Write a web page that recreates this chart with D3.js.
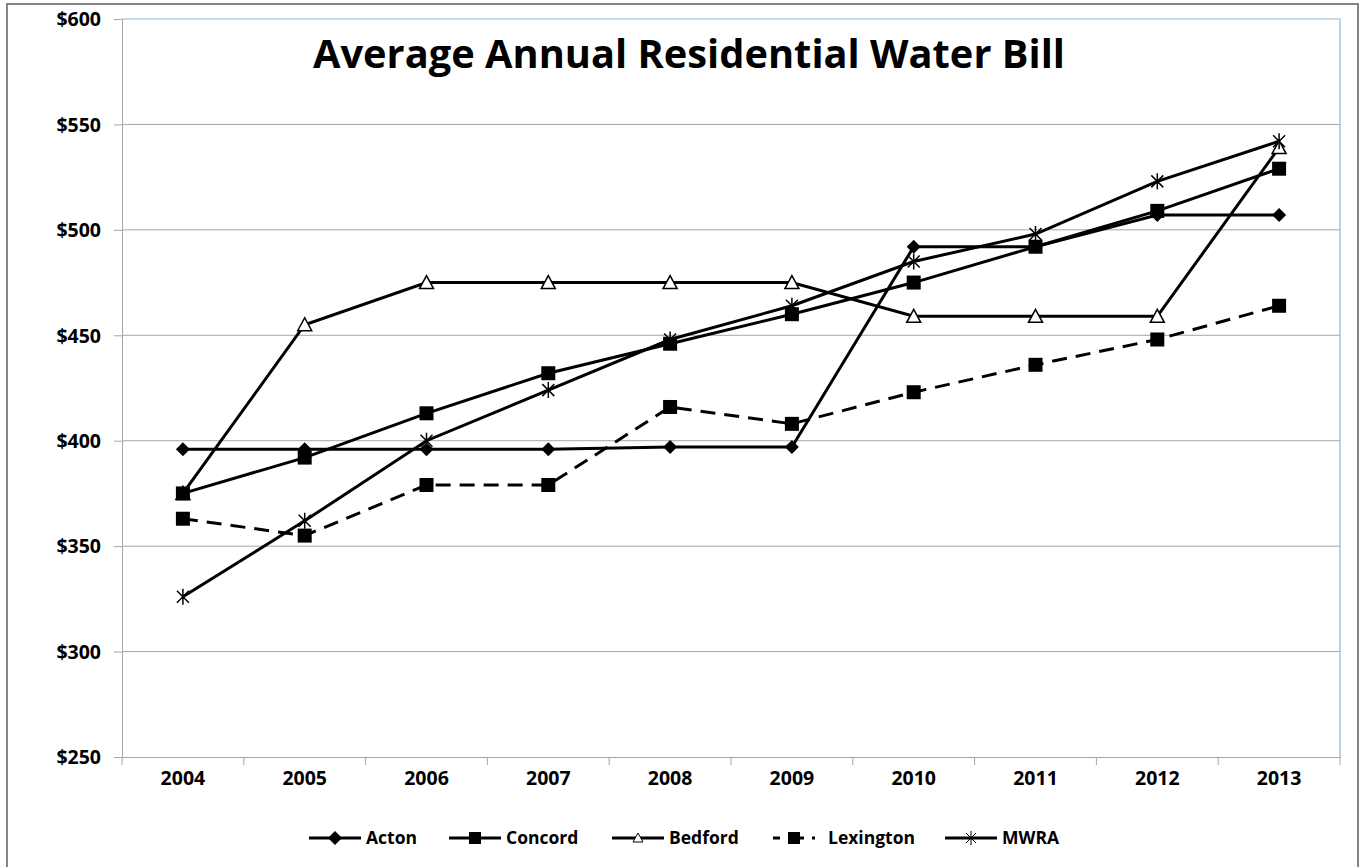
<!DOCTYPE html>
<html>
<head>
<meta charset="utf-8">
<script src="https://cdn.jsdelivr.net/npm/d3@7"></script>
<style>
  body { margin: 0; background: #fff; }
  svg text { font-family: "Open Sans", "DejaVu Sans", sans-serif; font-weight: bold; fill: #000; }
</style>
</head>
<body>
<div id="chart"></div>
<script>
// data
const years = ['2004', '2005', '2006', '2007', '2008', '2009', '2010', '2011', '2012', '2013'];
const acton = [396, 396, 396, 396, 397, 397, 492, 492, 507, 507];
const concord = [375, 392, 413, 432, 446, 460, 475, 492, 509, 529];
const bedford = [375, 455, 475, 475, 475, 475, 459, 459, 459, 539];
const lexington = [363, 355, 379, 379, 416, 408, 423, 436, 448, 464];
const mwra = [326, 362, 400, 424, 448, 464, 485, 498, 523, 542];
const yTicks = [250, 300, 350, 400, 450, 500, 550, 600];

const W = 1363, H = 867;
const margin = { top: 19, left: 122, right: 23, bottom: 110 };

const svg = d3.select('#chart').append('svg')
  .attr('width', W)
  .attr('height', H);

// outer chart border
svg.append('rect')
  .attr('x', 7).attr('y', 4)
  .attr('width', 1351).attr('height', 900)
  .attr('fill', 'none')
  .attr('stroke', '#858585')
  .attr('stroke-width', 2);

const x = d3.scaleBand().domain(years).range([margin.left, W - margin.right]).padding(0);
const y = d3.scaleLinear().domain([250, 600]).range([H - margin.bottom, margin.top]);
const cx = d => x(d) + x.bandwidth() / 2;

// gridlines
svg.append('g')
  .selectAll('line')
  .data(yTicks.filter(t => t > 250 && t < 600))
  .enter().append('line')
  .attr('x1', margin.left).attr('x2', W - margin.right)
  .attr('y1', d => y(d)).attr('y2', d => y(d))
  .attr('stroke', '#a6a6a6').attr('stroke-width', 1);

// plot area top / right border (light blue)
svg.append('path')
  .attr('d', `M${margin.left},${y(600)}H${W - margin.right}V${y(250)}`)
  .attr('fill', 'none')
  .attr('stroke', '#8db3e2')
  .attr('stroke-width', 1.2);

// y axis
const yAxis = svg.append('g')
  .attr('transform', `translate(${margin.left},0)`)
  .call(d3.axisLeft(y).tickValues(yTicks).tickSize(8).tickPadding(13).tickFormat(d => '$' + d));
yAxis.select('.domain').attr('stroke', '#a6a6a6');
yAxis.selectAll('.tick line').attr('stroke', '#a6a6a6');
yAxis.selectAll('text').style('font-size', '19.5px').attr('dy', '0.35em');

// x axis, ticks between categories
const xAxis = svg.append('g')
  .attr('transform', `translate(0,${y(250)})`)
  .call(d3.axisBottom(x).tickSize(0).tickPadding(14));
xAxis.select('.domain').attr('stroke', '#a6a6a6');
xAxis.selectAll('text').style('font-size', '19.5px');
xAxis.selectAll('.sep')
  .data(years.concat(['end']))
  .enter().append('line')
  .attr('class', 'sep')
  .attr('x1', (d, i) => margin.left + i * x.bandwidth())
  .attr('x2', (d, i) => margin.left + i * x.bandwidth())
  .attr('y1', 0).attr('y2', 8)
  .attr('stroke', '#a6a6a6');

// title
svg.append('text')
  .attr('x', 689).attr('y', 68)
  .attr('text-anchor', 'middle')
  .attr('textLength', 752)
  .attr('lengthAdjust', 'spacingAndGlyphs')
  .style('font-size', '39px')
  .text('Average Annual Residential Water Bill');

// marker shapes
function drawMarker(g, type, px, py) {
  if (type === 'diamond') {
    g.append('path')
      .attr('d', `M${px},${py - 7}L${px + 7},${py}L${px},${py + 7}L${px - 7},${py}Z`)
      .attr('fill', '#000');
  } else if (type === 'square') {
    g.append('rect')
      .attr('x', px - 7).attr('y', py - 7)
      .attr('width', 14).attr('height', 14)
      .attr('fill', '#000');
  } else if (type === 'triangle') {
    g.append('path')
      .attr('d', `M${px},${py - 7}L${px + 7},${py + 6}L${px - 7},${py + 6}Z`)
      .attr('fill', '#fff').attr('stroke', '#000').attr('stroke-width', 1.5);
  } else if (type === 'star') {
    g.append('path')
      .attr('d', `M${px - 6},${py - 6}L${px + 6},${py + 6}M${px - 6},${py + 6}L${px + 6},${py - 6}M${px},${py - 8}L${px},${py + 8}`)
      .attr('fill', 'none').attr('stroke', '#000').attr('stroke-width', 1.5);
  }
}

const series = [
  { name: 'Acton', values: acton, marker: 'diamond', dash: null },
  { name: 'Concord', values: concord, marker: 'square', dash: null },
  { name: 'Bedford', values: bedford, marker: 'triangle', dash: null },
  { name: 'Lexington', values: lexington, marker: 'square', dash: '15,9' },
  { name: 'MWRA', values: mwra, marker: 'star', dash: null }
];

const line = d3.line()
  .x((d, i) => cx(years[i]))
  .y(d => y(d));

// draw bedford first so the concord square covers its 2004 point
const drawOrder = ['Bedford', 'Acton', 'Concord', 'Lexington', 'MWRA'];
drawOrder.forEach(n => {
  const s = series.find(t => t.name === n);
  const g = svg.append('g').attr('class', 'series');
  g.append('path')
    .attr('d', line(s.values))
    .attr('fill', 'none')
    .attr('stroke', '#000')
    .attr('stroke-width', 3)
    .attr('stroke-dasharray', s.dash);
  s.values.forEach((v, i) => drawMarker(g, s.marker, cx(years[i]), y(v)));
});

// legend
const legendY = 838;
const legendX = [309, 449, 612, 773, 945];
series.forEach((s, i) => {
  const g = svg.append('g').attr('class', 'legend');
  const x0 = legendX[i];
  const len = s.dash ? 42 : 52;
  g.append('line')
    .attr('x1', x0).attr('x2', x0 + len)
    .attr('y1', legendY).attr('y2', legendY)
    .attr('stroke', '#000').attr('stroke-width', 3)
    .attr('stroke-dasharray', s.dash ? '7,8,16,8' : null);
  if (s.marker === 'triangle') {
    g.append('path')
      .attr('d', `M${x0 + len / 2},${legendY - 5}L${x0 + len / 2 + 5},${legendY + 4}L${x0 + len / 2 - 5},${legendY + 4}Z`)
      .attr('fill', '#fff').attr('stroke', '#000').attr('stroke-width', 1);
  } else if (s.marker === 'star') {
    const m = x0 + len / 2;
    g.append('path')
      .attr('d', `M${m - 5},${legendY - 5}L${m + 5},${legendY + 5}M${m - 5},${legendY + 5}L${m + 5},${legendY - 5}M${m},${legendY - 7}L${m},${legendY + 7}`)
      .attr('stroke', '#000').attr('stroke-width', 1);
  } else if (s.marker === 'diamond') {
    drawMarker(g, 'diamond', x0 + len / 2, legendY);
  } else {
    const m = x0 + len / 2;
    g.append('rect')
      .attr('x', m - 6).attr('y', legendY - 6)
      .attr('width', 12).attr('height', 12)
      .attr('fill', '#000');
  }
  g.append('text')
    .attr('x', s.dash ? x0 + 55 : x0 + len + 5)
    .attr('y', legendY)
    .attr('dy', '0.35em')
    .style('font-size', '17.5px')
    .text(s.name);
});
</script>
</body>
</html>
